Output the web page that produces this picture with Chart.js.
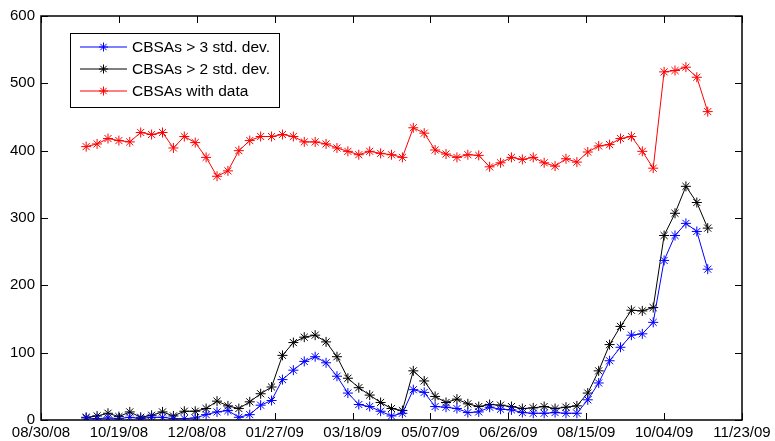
<!DOCTYPE html>
<html>
<head>
<meta charset="utf-8">
<script src="https://cdn.jsdelivr.net/npm/chart.js"></script>
<style>
  body { margin: 0; background: #fff; }
  canvas { display: block; }
</style>
</head>
<body>
<canvas id="grafico" width="775" height="441"></canvas>
<script>
// datas semanais (MM/DD/YY)
const datas = [
  '09/28/08', '10/05/08', '10/12/08', '10/19/08', '10/26/08', '11/02/08', '11/09/08', '11/16/08',
  '11/23/08', '11/30/08', '12/07/08', '12/14/08', '12/21/08', '12/28/08', '01/04/09', '01/11/09',
  '01/18/09', '01/25/09', '02/01/09', '02/08/09', '02/15/09', '02/22/09', '03/01/09', '03/08/09',
  '03/15/09', '03/22/09', '03/29/09', '04/05/09', '04/12/09', '04/19/09', '04/26/09', '05/03/09',
  '05/10/09', '05/17/09', '05/24/09', '05/31/09', '06/07/09', '06/14/09', '06/21/09', '06/28/09',
  '07/05/09', '07/12/09', '07/19/09', '07/26/09', '08/02/09', '08/09/09', '08/16/09', '08/23/09',
  '08/30/09', '09/06/09', '09/13/09', '09/20/09', '09/27/09', '10/04/09', '10/11/09', '10/18/09',
  '10/25/09', '11/01/09'
];

const acima3 = [
  3, 2, 3, 2, 4, 2, 4, 4, 2, 2, 3, 8, 12, 14, 4, 8,
  22, 29, 60, 74, 87, 94, 85, 65, 40, 23, 20, 13, 6, 10, 45, 41,
  20, 19, 17, 11, 12, 19, 16, 15, 11, 10, 10, 11, 10, 10, 30, 55,
  88, 108, 126, 128, 145, 237, 274, 292, 280, 224
];

const acima2 = [
  4, 6, 10, 5, 12, 4, 7, 12, 6, 13, 13, 17, 28, 21, 17, 27,
  39, 49, 96, 115, 123, 126, 116, 94, 62, 48, 37, 26, 17, 14, 73, 58,
  35, 26, 31, 24, 20, 23, 22, 20, 17, 18, 20, 17, 19, 21, 40, 73,
  112, 139, 163, 162, 167, 274, 307, 347, 323, 285
];

const comDados = [
  406, 410, 418, 415, 413, 427, 424, 427, 404, 421, 412, 390, 362, 370, 400, 415,
  421, 421, 424, 421, 413, 413, 410, 404, 399, 394, 399, 396, 394, 390, 434, 426,
  401, 395, 390, 394, 393, 376, 382, 390, 387, 390, 382, 377, 388, 383, 398, 407,
  409, 418, 421, 399, 374, 517, 519, 524, 509, 458
];

const rotulosX = ['08/30/08', '10/19/08', '12/08/08', '01/27/09', '03/18/09',
  '05/07/09', '06/26/09', '08/15/09', '10/04/09', '11/23/09'];
const rotulosY = [0, 100, 200, 300, 400, 500, 600];

const nomes = ['CBSAs > 3 std. dev.', 'CBSAs > 2 std. dev.', 'CBSAs with data'];
const cores = ['#0000ff', '#000000', '#ff0000'];

function paraDia(s) {
  const [m, d, a] = s.split('/').map(Number);
  return Date.UTC(2000 + a, m - 1, d) / 86400000;
}
const dia0 = paraDia(rotulosX[0]);
const diaFim = paraDia(rotulosX[rotulosX.length - 1]);

function pontos(valores) {
  return valores.map((v, i) => ({ x: paraDia(datas[i]) - dia0, y: v }));
}

const fonte = { family: 'Arial, "Liberation Sans", sans-serif', size: 15 };

function desenharEstrela(ctx, x, y, r) {
  const d = r * Math.SQRT1_2;
  ctx.beginPath();
  ctx.moveTo(x - r, y); ctx.lineTo(x + r, y);
  ctx.moveTo(x, y - r); ctx.lineTo(x, y + r);
  ctx.moveTo(x - d, y - d); ctx.lineTo(x + d, y + d);
  ctx.moveTo(x - d, y + d); ctx.lineTo(x + d, y - d);
  ctx.stroke();
}

// caixa estilo matlab com ticks para dentro + legenda
const caixaPlugin = {
  id: 'caixa',
  afterDraw(chart) {
    const ctx = chart.ctx;
    const a = chart.chartArea;
    const sx = chart.scales.x, sy = chart.scales.y;
    const tl = 7;
    ctx.save();
    ctx.strokeStyle = '#000';
    ctx.lineWidth = 1.5;
    ctx.strokeRect(a.left, a.top, a.right - a.left, a.bottom - a.top);
    ctx.lineWidth = 1;
    ctx.beginPath();
    sx.ticks.forEach(t => {
      const px = Math.round(sx.getPixelForValue(t.value)) + 0.5;
      ctx.moveTo(px, a.bottom); ctx.lineTo(px, a.bottom - tl);
      ctx.moveTo(px, a.top); ctx.lineTo(px, a.top + tl);
    });
    sy.ticks.forEach(t => {
      const py = Math.round(sy.getPixelForValue(t.value)) + 0.5;
      ctx.moveTo(a.left, py); ctx.lineTo(a.left + tl, py);
      ctx.moveTo(a.right, py); ctx.lineTo(a.right - tl, py);
    });
    ctx.stroke();

    // legenda
    const lx = 70.5, ly = 33.5, lw = 209, lh = 74;
    ctx.fillStyle = '#fff';
    ctx.fillRect(lx, ly, lw, lh);
    ctx.strokeStyle = '#000';
    ctx.lineWidth = 1;
    ctx.strokeRect(lx, ly, lw, lh);
    ctx.font = '15.5px Arial, "Liberation Sans", sans-serif';
    ctx.textBaseline = 'middle';
    chart.data.datasets.forEach((ds, i) => {
      const y = 47 + i * 22;
      ctx.strokeStyle = ds.borderColor;
      ctx.lineWidth = 1;
      ctx.beginPath();
      ctx.moveTo(80, y); ctx.lineTo(127, y);
      ctx.stroke();
      desenharEstrela(ctx, 103.5, y, 4.5);
      ctx.fillStyle = '#000';
      ctx.fillText(ds.label, 132, y + 1);
    });
    ctx.restore();
  }
};

function criarSerie(i, valores) {
  return {
    label: nomes[i],
    data: pontos(valores),
    borderColor: cores[i],
    backgroundColor: cores[i],
    borderWidth: 1,
    pointStyle: 'star',
    pointRadius: 5,
    pointBorderWidth: 1,
    pointBorderColor: cores[i],
    tension: 0,
    fill: false
  };
}

new Chart(document.getElementById('grafico'), {
  type: 'line',
  data: {
    datasets: [
      criarSerie(0, acima3),
      criarSerie(1, acima2),
      criarSerie(2, comDados)
    ]
  },
  options: {
    responsive: false,
    animation: false,
    layout: { padding: { left: 0, right: 33, top: 16, bottom: 0 } },
    plugins: {
      legend: { display: false },
      tooltip: { enabled: false }
    },
    scales: {
      x: {
        type: 'linear',
        min: 0,
        max: diaFim - dia0,
        afterBuildTicks: s => {
          s.ticks = rotulosX.map(r => ({ value: paraDia(r) - dia0 }));
        },
        afterFit: s => { s.height = 21; },
        grid: { display: false, drawTicks: false },
        border: { display: false },
        ticks: {
          autoSkip: false,
          maxRotation: 0,
          padding: 4,
          color: '#000',
          font: fonte,
          callback: (v, i) => rotulosX[i]
        }
      },
      y: {
        min: rotulosY[0],
        max: rotulosY[rotulosY.length - 1],
        afterBuildTicks: s => {
          s.ticks = rotulosY.map(v => ({ value: v }));
        },
        afterFit: s => { s.width = 41; },
        grid: { display: false, drawTicks: false },
        border: { display: false },
        ticks: {
          padding: 6,
          color: '#000',
          font: fonte
        }
      }
    }
  },
  plugins: [caixaPlugin]
});
</script>
</body>
</html>
